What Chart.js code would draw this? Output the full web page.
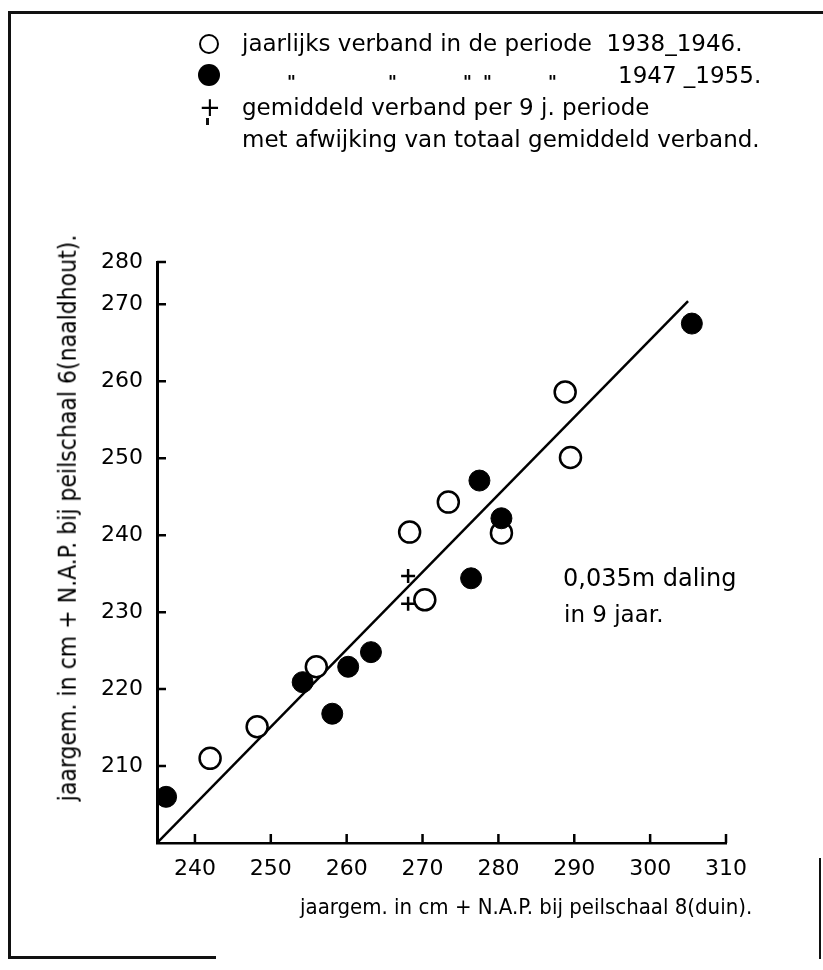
<!DOCTYPE html>
<html lang="nl">
  <head>
    <meta charset="UTF-8" />
    <title>Verband peilschaal 6 en peilschaal 8</title>
    <script src="https://cdn.jsdelivr.net/npm/chart.js"></script>
    <style>
      body { margin: 0; background: #fff; }
      #wrap {
        position: relative; width: 823px; height: 970px; overflow: hidden;
        font-family: "DejaVu Sans", sans-serif;
        color: #000;
      }
      #chart { position: absolute; left: 0; top: 0; }
      .t { position: absolute; white-space: nowrap; font-size: 23px; line-height: 1; }
      .c { font-family: "DejaVu Sans Condensed", "Liberation Sans Narrow", "DejaVu Sans", sans-serif; }
      .d { font-size: 17px; font-weight: bold; top: 74px; }
      .frame { position: absolute; background: #111; }
      .sym { position: absolute; box-sizing: border-box; border-radius: 50%; }
    </style>
  </head>
  <body>
    <div id="wrap">
      <canvas id="chart" width="823" height="970"></canvas>

      <div class="frame" style="left:8px; top:11px; width:815px; height:3px"></div>
      <div class="frame" style="left:8px; top:11px; width:3px; height:948px"></div>
      <div class="frame" style="left:8px; top:956px; width:208px; height:3px"></div>
      <div class="frame" style="left:819px; top:858px; width:2px; height:101px"></div>

      <!-- legend -->
      <div class="sym" style="left:199px; top:34px; width:20px; height:20px; border:2.5px solid #000"></div>
      <div class="t" style="left:242px; top:32px">jaarlijks verband in de periode&nbsp; 1938_1946.</div>
      <div class="sym" style="left:198px; top:64px; width:22px; height:22px; background:#000"></div>
      <div class="t d" style="left:287px">"</div>
      <div class="t d" style="left:388px">"</div>
      <div class="t d" style="left:463px">"</div>
      <div class="t d" style="left:483px">"</div>
      <div class="t d" style="left:548px">"</div>
      <div class="t" style="left:618px; top:64px">1947 _1955.</div>
      <div class="t" style="left:199px; top:94px; font-size:26px">+</div>
      <div class="frame" style="left:206px; top:118px; width:3px; height:7px"></div>
      <div class="t" style="left:242px; top:96px">gemiddeld verband per 9 j. periode</div>
      <div class="t" style="left:242px; top:128px">met afwijking van totaal gemiddeld verband.</div>

      <!-- annotation -->
      <div class="t" style="left:563px; top:566px; font-size:24px">0,035m daling</div>
      <div class="t" style="left:564px; top:603px; font-size:23px">in 9 jaar.</div>

      <!-- axis titles -->
      <div class="t c" style="left:300px; top:896px; font-size:22px">jaargem. in cm + N.A.P. bij peilschaal 8(duin).</div>
      <div class="t c" style="left:68px; top:518px; font-size:24.5px; transform:translate(-50%,-50%) rotate(-90deg)">jaargem. in cm + N.A.P. bij peilschaal 6(naaldhout).</div>
    </div>

    <script>
      // waterstanden, jaargemiddelden in cm + N.A.P.
      const xTickValues = [240, 250, 260, 270, 280, 290, 300, 310];
      const yTickValues = [210, 220, 230, 240, 250, 260, 270, 275.5];
      const yTickLabels = ["210", "220", "230", "240", "250", "260", "270", "280"];

      // 1938 - 1946 (open rondjes)
      const open1938x = [242.0, 248.2, 256.0, 268.3, 270.3, 273.4, 280.4, 288.8, 289.5];
      const open1938y = [211.0, 215.1, 222.9, 240.4, 231.6, 244.3, 240.3, 258.6, 250.1];
      // 1947 - 1955 (dichte rondjes)
      const filled1947x = [236.2, 254.2, 258.1, 260.2, 263.2, 276.4, 277.5, 280.4, 305.5];
      const filled1947y = [206.0, 220.9, 216.8, 222.9, 224.8, 234.4, 247.1, 242.2, 267.5];
      // gemiddeld verband per 9 j. periode
      const meanX = [268.1, 268.1];
      const meanY = [234.7, 231.1];
      // totaal gemiddeld verband
      const lineX = [235, 305];
      const lineY = [200, 270.4];

      const pts = (xs, ys) => xs.map((x, i) => ({ x: x, y: ys[i] }));

      const inwardTicks = {
        id: "inwardTicks",
        afterDraw(chart) {
          const ctx = chart.ctx;
          const xs = chart.scales.x;
          const ys = chart.scales.y;
          const area = chart.chartArea;
          ctx.save();
          ctx.strokeStyle = "#000";
          ctx.lineWidth = 2.5;
          ctx.beginPath();
          xTickValues.forEach((v) => {
            const px = xs.getPixelForValue(v);
            ctx.moveTo(px, area.bottom);
            ctx.lineTo(px, area.bottom - 9);
          });
          yTickValues.forEach((v) => {
            const py = ys.getPixelForValue(v);
            ctx.moveTo(area.left, py);
            ctx.lineTo(area.left + 9, py);
          });
          ctx.stroke();
          ctx.restore();
        },
      };

      const tickFont = { family: "'DejaVu Sans', sans-serif", size: 22 };

      new Chart(document.getElementById("chart"), {
        type: "scatter",
        data: {
          datasets: [
            {
              type: "line",
              data: pts(lineX, lineY),
              borderColor: "#000",
              borderWidth: 2.5,
              pointRadius: 0,
              order: 10,
            },
            {
              data: pts(open1938x, open1938y),
              pointStyle: "circle",
              pointRadius: 10.5,
              backgroundColor: "#fff",
              borderColor: "#000",
              borderWidth: 2.5,
              order: 2,
            },
            {
              data: pts(filled1947x, filled1947y),
              pointStyle: "circle",
              pointRadius: 10.5,
              backgroundColor: "#000",
              borderColor: "#000",
              borderWidth: 1,
              order: 1,
            },
            {
              data: pts(meanX, meanY),
              pointStyle: "cross",
              pointRadius: 7,
              borderColor: "#000",
              borderWidth: 2.5,
              order: 0,
            },
          ],
        },
        options: {
          responsive: false,
          animation: false,
          layout: { padding: { left: 54, right: 97, top: 262, bottom: 44 } },
          plugins: { legend: { display: false }, tooltip: { enabled: false } },
          scales: {
            x: {
              type: "linear",
              min: 235,
              max: 310,
              afterFit: (scale) => { scale.height = 83; },
              afterBuildTicks: (scale) => { scale.ticks = xTickValues.map((v) => ({ value: v })); },
              grid: { display: false },
              border: { display: true, color: "#000", width: 2.5 },
              ticks: { color: "#000", font: tickFont, padding: 5, maxRotation: 0 },
            },
            y: {
              type: "linear",
              min: 200,
              max: 275.5,
              afterFit: (scale) => { scale.width = 103; },
              afterBuildTicks: (scale) => { scale.ticks = yTickValues.map((v) => ({ value: v })); },
              grid: { display: false },
              border: { display: true, color: "#000", width: 3 },
              ticks: {
                color: "#000",
                font: tickFont,
                padding: 6,
                callback: (v) => yTickLabels[yTickValues.indexOf(v)],
              },
            },
          },
        },
        plugins: [inwardTicks],
      });
    </script>
  </body>
</html>
